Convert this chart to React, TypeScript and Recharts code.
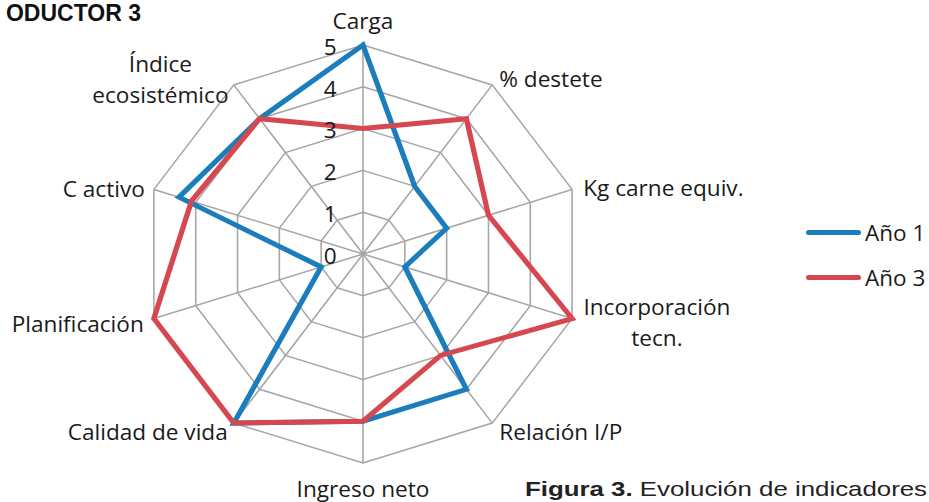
import React from "react";
import {
  PolarAngleAxis,
  PolarGrid,
  PolarRadiusAxis,
  Radar,
  RadarChart,
} from "recharts";

const categories = [
  "Carga",
  "% destete",
  "Kg carne equiv.",
  "Incorporación tecn.",
  "Relación I/P",
  "Ingreso neto",
  "Calidad de vida",
  "Planificación",
  "C activo",
  "Índice ecosistémico",
];
const ano1 = [5, 2, 2, 1, 4, 4, 5, 1, 4.4, 4];
const ano3 = [3, 4, 3, 5, 3, 4, 5, 5, 4.1, 4];
const radiusTicks = [0, 1, 2, 3, 4, 5];

const BLUE = "#1b7dbb";
const RED = "#d6474f";
const LABEL_FONT = "'Open Sans', Lato, sans-serif";
const STRETCH = 1.052; // the original plot is a bit wider than tall

const data = categories.map((c, i) => ({ name: c, a1: ano1[i], a3: ano3[i] }));

// nudges so each label lands where the original put it
const labelPos: Record<number, { dx: number; dy: number; anchor: string; lines?: string[] }> = {
  0: { dx: 0, dy: -17, anchor: "middle" },
  1: { dx: 2, dy: 0, anchor: "start" },
  2: { dx: 3, dy: 0, anchor: "start" },
  3: { dx: 73, dy: 0, anchor: "middle", lines: ["Incorporación", "tecn."] },
  4: { dx: 2, dy: 2, anchor: "start" },
  5: { dx: 0, dy: 17, anchor: "middle" },
  6: { dx: -1, dy: 2, anchor: "end" },
  7: { dx: -2, dy: 2, anchor: "end" },
  8: { dx: -1, dy: 1, anchor: "end" },
  9: { dx: -65, dy: 0, anchor: "middle", lines: ["Índice", "ecosistémico"] },
};

function AngleTick(props: any) {
  const { x, y, payload } = props;
  const idx = payload.index ?? props.index;
  const p = labelPos[idx] || { dx: 0, dy: 0, anchor: "middle" };
  const tx = x + p.dx;
  const ty = y + p.dy;
  if (p.lines) {
    return (
      <g>
        <text x={tx} y={ty - 15} textAnchor={p.anchor as any} dominantBaseline="central"
          fontFamily={LABEL_FONT} fontSize={21.5} fill="#1a1a1a">
          {p.lines[0]}
        </text>
        <text x={tx} y={ty + 16} textAnchor={p.anchor as any} dominantBaseline="central"
          fontFamily={LABEL_FONT} fontSize={21.5} fill="#1a1a1a">
          {p.lines[1]}
        </text>
      </g>
    );
  }
  return (
    <text x={tx} y={ty} textAnchor={p.anchor as any} dominantBaseline="central"
      fontFamily={LABEL_FONT} fontSize={21.5} fill="#1a1a1a">
      {payload.value}
    </text>
  );
}

function RadiusTick(props: any) {
  const { x, y, payload } = props;
  return (
    <text x={x - 25} y={y + 1} textAnchor="end" dominantBaseline="central"
      fontFamily={LABEL_FONT} fontSize={21.5} fill="#1a1a1a">
      {payload.value}
    </text>
  );
}

function LegendRow({ color, label, top }: { color: string; label: string; top: number }) {
  return (
    <div style={{ position: "absolute", left: 806, top, display: "flex", alignItems: "center", height: 30 }}>
      <div style={{ width: 55, height: 5, background: color, borderRadius: 3 }} />
      <span style={{ fontFamily: LABEL_FONT, fontSize: 22.5, color: "#1a1a1a", marginLeft: 4 }}>
        {label}
      </span>
    </div>
  );
}

export default function App() {
  return (
    <div
      style={{
        position: "absolute",
        left: 0,
        top: 0,
        width: 929,
        height: 502,
        background: "#fff",
        overflow: "hidden",
      }}
    >
      <div
        style={{
          position: "absolute",
          left: 0,
          top: 0,
          transform: `scaleX(${STRETCH})`,
          transformOrigin: "363px 0px",
        }}
      >
        <RadarChart
          width={929}
          height={502}
          data={data}
          cx={363}
          cy={254}
          outerRadius={209}
          margin={{ top: 0, right: 0, bottom: 0, left: 0 }}
        >
          <PolarGrid gridType="polygon" stroke="#a6a6a6" strokeWidth={1.5} />
          <PolarAngleAxis dataKey="name" tick={AngleTick} tickLine={false} axisLine={false} />
          <PolarRadiusAxis
            angle={90}
            domain={[0, 5]}
            ticks={radiusTicks as any}
            tickCount={6}
            axisLine={false}
            tick={RadiusTick}
          />
          <Radar
            name="Año 1"
            dataKey="a1"
            stroke={BLUE}
            strokeWidth={5}
            fill="none"
            fillOpacity={0}
            dot={false}
            isAnimationActive={false}
          />
          <Radar
            name="Año 3"
            dataKey="a3"
            stroke={RED}
            strokeWidth={5}
            fill="none"
            fillOpacity={0}
            dot={false}
            isAnimationActive={false}
          />
        </RadarChart>
      </div>
      <LegendRow color={BLUE} label="Año 1" top={217} />
      <LegendRow color={RED} label="Año 3" top={262} />
      <div
        style={{
          position: "absolute",
          right: 788,
          top: 0,
          fontFamily: "'Liberation Sans', Arial, sans-serif",
          fontWeight: "bold",
          fontSize: 23,
          color: "#111",
          whiteSpace: "nowrap",
        }}
      >
        ODUCTOR 3
      </div>
      <div
        style={{
          position: "absolute",
          left: 525,
          top: 477,
          fontFamily: "'Liberation Sans', Arial, sans-serif",
          fontSize: 21,
          color: "#222",
          whiteSpace: "nowrap",
          transform: "scaleX(1.23)",
          transformOrigin: "0px 0px",
        }}
      >
        <b>Figura 3.</b> Evolución de indicadores
      </div>
    </div>
  );
}
